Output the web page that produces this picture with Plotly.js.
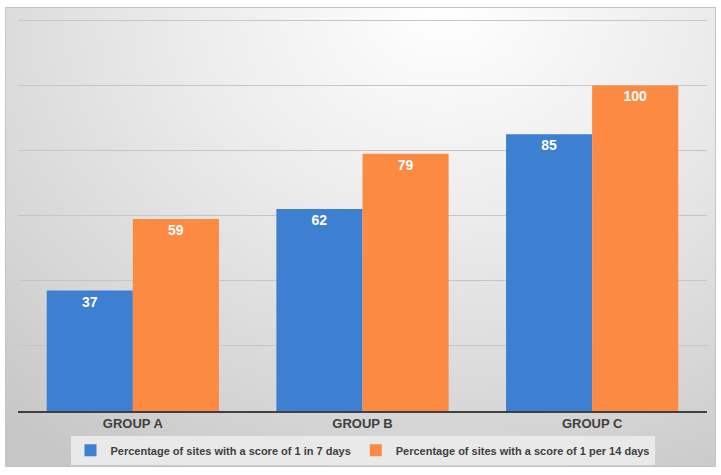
<!DOCTYPE html>
<html>
<head>
<meta charset="utf-8">
<script src="https://cdn.plot.ly/plotly-3.0.1.min.js"></script>
<style>
  html, body { margin: 0; padding: 0; background: #fff; }
  #wrap { position: relative; width: 721px; height: 475px; }
  #bg {
    position: absolute; left: 5px; top: 7px; width: 709px; height: 458px;
    border: 1px solid #c4c4c4;
    background: radial-gradient(ellipse 95% 120% at 62% 0%, #ffffff 0%, #ececec 38%, #d6d6d6 75%, #c6c6c6 100%);
  }
  #plot { position: absolute; left: 0; top: 0; width: 721px; height: 475px; }
</style>
</head>
<body>
<div id="wrap">
  <div id="bg"></div>
  <div id="plot"></div>
</div>
<script>
const groups = ["GROUP A", "GROUP B", "GROUP C"];
const weekly = [37, 62, 85];
const fortnightly = [59, 79, 100];
const seriesNames = [
  "Percentage of sites with a score of 1 in 7 days",
  "Percentage of sites with a score of 1 per 14 days",
];

const labelFont = { family: "Liberation Sans, Arial, sans-serif", size: 14, color: "#ffffff", weight: "bold" };

const traces = [
  {
    x: groups,
    y: weekly,
    name: seriesNames[0],
    type: "bar",
    marker: { color: "#3d7fd0" },
    text: weekly.map(String),
    textposition: "inside",
    insidetextanchor: "end",
    textfont: labelFont,
    hoverinfo: "skip",
  },
  {
    x: groups,
    y: fortnightly,
    name: seriesNames[1],
    type: "bar",
    marker: { color: "#fd8a43" },
    text: fortnightly.map(String),
    textposition: "inside",
    insidetextanchor: "end",
    textfont: labelFont,
    hoverinfo: "skip",
  },
];

const layout = {
  width: 721,
  height: 475,
  margin: { l: 18, r: 14, t: 17, b: 64 },
  paper_bgcolor: "rgba(0,0,0,0)",
  plot_bgcolor: "rgba(0,0,0,0)",
  barmode: "group",
  bargap: 0.25,
  bargroupgap: 0,
  showlegend: true,
  legend: {
    orientation: "h",
    x: 0.5,
    xanchor: "center",
    yref: "container",
    y: 0.052,
    yanchor: "middle",
    bgcolor: "#e9e9e9",
    font: { family: "Liberation Sans, Arial, sans-serif", size: 11, color: "#404040", weight: "bold" },
    itemwidth: 30,
    traceorder: "normal",
  },
  xaxis: {
    showline: true,
    linecolor: "#404040",
    linewidth: 1.5,
    ticks: "",
    tickfont: { family: "Liberation Sans, Arial, sans-serif", size: 13, color: "#404040", weight: "bold" },
    showgrid: false,
    zeroline: false,
  },
  yaxis: {
    range: [0, 121],
    dtick: 20,
    showticklabels: false,
    showgrid: true,
    gridcolor: "#c6c6c6",
    gridwidth: 1,
    zeroline: false,
    showline: false,
    ticks: "",
  },
};

Plotly.newPlot(document.querySelector("#plot"), traces, layout, { displayModeBar: false, staticPlot: true });
</script>
</body>
</html>
